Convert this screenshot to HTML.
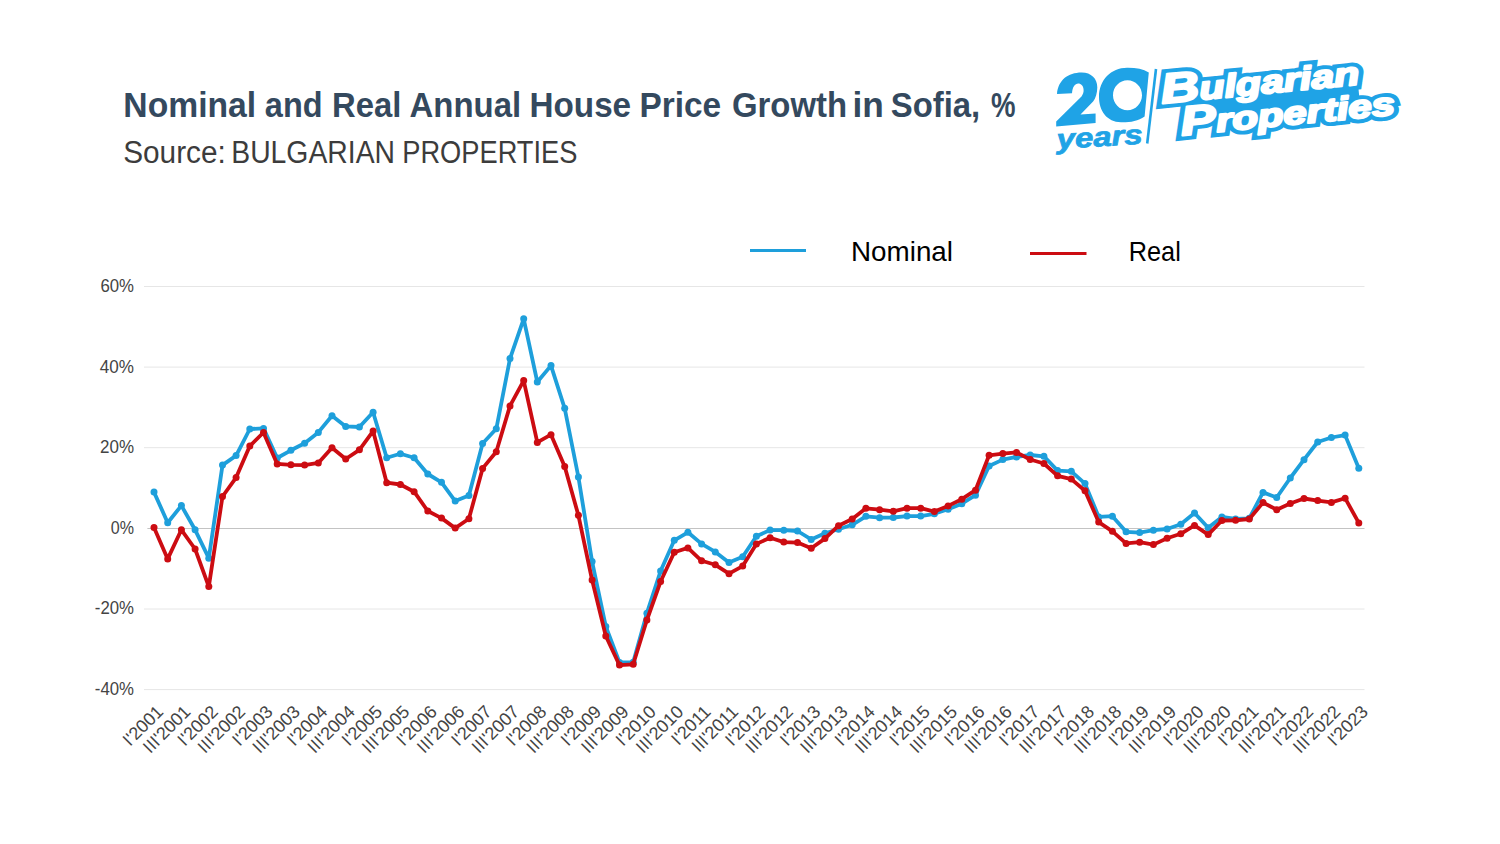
<!DOCTYPE html>
<html><head><meta charset="utf-8"><style>
html,body{margin:0;padding:0;background:#fff;}
svg{display:block;}
text{font-family:"Liberation Sans",sans-serif;}
</style></head><body>
<svg width="1500" height="844" viewBox="0 0 1500 844">
<rect width="1500" height="844" fill="#fff"/>
<g font-size="35.5" font-weight="bold" fill="#34495e"><text x="123.35" y="117" textLength="132.84" lengthAdjust="spacingAndGlyphs">Nominal</text><text x="264.85" y="117" textLength="57.69" lengthAdjust="spacingAndGlyphs">and</text><text x="332.00" y="117" textLength="69.32" lengthAdjust="spacingAndGlyphs">Real</text><text x="409.48" y="117" textLength="111.65" lengthAdjust="spacingAndGlyphs">Annual</text><text x="529.47" y="117" textLength="101.66" lengthAdjust="spacingAndGlyphs">House</text><text x="639.47" y="117" textLength="81.67" lengthAdjust="spacingAndGlyphs">Price</text><text x="731.95" y="117" textLength="115.09" lengthAdjust="spacingAndGlyphs">Growth</text><text x="852.54" y="117" textLength="31.35" lengthAdjust="spacingAndGlyphs">in</text><text x="890.75" y="117" textLength="89.44" lengthAdjust="spacingAndGlyphs">Sofia,</text><text x="991.01" y="117" textLength="24.51" lengthAdjust="spacingAndGlyphs">%</text></g>
<g font-size="31" fill="#3c3c3c"><text x="123.15" y="163" textLength="102.67" lengthAdjust="spacingAndGlyphs">Source:</text><text x="231.28" y="163" textLength="163.73" lengthAdjust="spacingAndGlyphs">BULGARIAN</text><text x="402.27" y="163" textLength="175.18" lengthAdjust="spacingAndGlyphs">PROPERTIES</text></g>
<!-- logo -->
<g fill="#1fa3e6">
<path d="M1057,94 C1058,80 1068,72.5 1081.5,72.4 C1091,72.3 1097.5,78.5 1097.3,87.4 C1097.2,93 1095.8,98 1093.1,101.5 L1080.5,114.5 L1095.6,113.4 L1095.6,123.1 L1056.2,126.4 L1056.2,121.4 L1081.5,96.5 C1083,94 1083.8,92 1083.6,89.9 C1083.5,86 1081,83.6 1078.2,83.6 C1075,83.6 1072.5,87 1072,93.2 Z"/>
<path fill-rule="evenodd" d="M1148.8,72.4 L1144.6,116.4 C1138,121 1130,122.5 1121,122.3 C1107,122 1099,111 1099,97 C1099,80 1111,68 1127,67.8 C1136,67.7 1143,69 1148.8,72.4 Z M1127.5,80.3 C1135.5,80.3 1142,87 1142,95.2 C1142,103.4 1135.5,110.2 1127.5,110.2 C1119.5,110.2 1113,103.4 1113,95.2 C1113,87 1119.5,80.3 1127.5,80.3 Z"/>
<text transform="translate(1057.3,148.8) rotate(-3.4)" font-size="27.5" font-weight="bold" font-style="italic" textLength="86" lengthAdjust="spacingAndGlyphs" stroke="#1fa3e6" stroke-width="0.8">years</text>
</g>
<line x1="1156" y1="69" x2="1147.2" y2="143.5" stroke="#1fa3e6" stroke-width="2.6"/>
<g transform="translate(1163,103.5) rotate(-5.6)" font-weight="bold" font-style="italic">
<path d="M22,-8 L196,-8 L196,18 L20,18 Z" fill="#1fa3e6"/>
<g fill="#fff" stroke="#1fa3e6" stroke-width="10" stroke-linejoin="miter" stroke-miterlimit="2.5" paint-order="stroke">
<text x="-1" y="0" textLength="199" lengthAdjust="spacingAndGlyphs"><tspan font-size="42">B</tspan><tspan font-size="32.5">ulgarian</tspan></text>
<text x="15.6" y="33.6" textLength="215" lengthAdjust="spacingAndGlyphs"><tspan font-size="41">P</tspan><tspan font-size="32.5">roperties</tspan></text>
</g>
<g fill="#fff" stroke="#fff" stroke-width="2.2" stroke-linejoin="round">
<text x="-1" y="0" textLength="199" lengthAdjust="spacingAndGlyphs"><tspan font-size="42">B</tspan><tspan font-size="32.5">ulgarian</tspan></text>
<text x="15.6" y="33.6" textLength="215" lengthAdjust="spacingAndGlyphs"><tspan font-size="41">P</tspan><tspan font-size="32.5">roperties</tspan></text>
</g>
</g>
<!-- legend -->
<line x1="750" y1="250.4" x2="806" y2="250.4" stroke="#1e9fdb" stroke-width="3"/>
<text x="851" y="261" font-size="28" fill="#000" textLength="102" lengthAdjust="spacingAndGlyphs">Nominal</text>
<line x1="1030" y1="253.5" x2="1086.5" y2="253.5" stroke="#cc0c12" stroke-width="3"/>
<text x="1128.8" y="261" font-size="28" fill="#000" textLength="52" lengthAdjust="spacingAndGlyphs">Real</text>
<!-- grid -->
<line x1="144.0" y1="286.5" x2="1364.5" y2="286.5" stroke="#e6e6e6" stroke-width="1"/><line x1="144.0" y1="367.1" x2="1364.5" y2="367.1" stroke="#e6e6e6" stroke-width="1"/><line x1="144.0" y1="447.7" x2="1364.5" y2="447.7" stroke="#e6e6e6" stroke-width="1"/><line x1="147.4" y1="528.5" x2="1364.5" y2="528.5" stroke="#c3c3c3" stroke-width="1"/><line x1="144.0" y1="609.0" x2="1364.5" y2="609.0" stroke="#e6e6e6" stroke-width="1"/><line x1="144.0" y1="689.6" x2="1364.5" y2="689.6" stroke="#e6e6e6" stroke-width="1"/>
<g font-size="18.3" fill="#444"><text x="100.4" y="291.9" textLength="33.6" lengthAdjust="spacingAndGlyphs">60%</text><text x="99.8" y="372.5" textLength="34.2" lengthAdjust="spacingAndGlyphs">40%</text><text x="100.0" y="453.1" textLength="34.0" lengthAdjust="spacingAndGlyphs">20%</text><text x="110.8" y="533.9" textLength="23.2" lengthAdjust="spacingAndGlyphs">0%</text><text x="94.8" y="614.4" textLength="39.2" lengthAdjust="spacingAndGlyphs">-20%</text><text x="94.8" y="695.0" textLength="39.2" lengthAdjust="spacingAndGlyphs">-40%</text></g>
<g font-size="18" fill="#444"><text transform="translate(164.3,712.8) rotate(-45)" text-anchor="end">I'2001</text><text transform="translate(191.7,712.8) rotate(-45)" text-anchor="end">III'2001</text><text transform="translate(219.1,712.8) rotate(-45)" text-anchor="end">I'2002</text><text transform="translate(246.4,712.8) rotate(-45)" text-anchor="end">III'2002</text><text transform="translate(273.8,712.8) rotate(-45)" text-anchor="end">I'2003</text><text transform="translate(301.2,712.8) rotate(-45)" text-anchor="end">III'2003</text><text transform="translate(328.6,712.8) rotate(-45)" text-anchor="end">I'2004</text><text transform="translate(356.0,712.8) rotate(-45)" text-anchor="end">III'2004</text><text transform="translate(383.4,712.8) rotate(-45)" text-anchor="end">I'2005</text><text transform="translate(410.7,712.8) rotate(-45)" text-anchor="end">III'2005</text><text transform="translate(438.1,712.8) rotate(-45)" text-anchor="end">I'2006</text><text transform="translate(465.5,712.8) rotate(-45)" text-anchor="end">III'2006</text><text transform="translate(492.9,712.8) rotate(-45)" text-anchor="end">I'2007</text><text transform="translate(520.3,712.8) rotate(-45)" text-anchor="end">III'2007</text><text transform="translate(547.6,712.8) rotate(-45)" text-anchor="end">I'2008</text><text transform="translate(575.0,712.8) rotate(-45)" text-anchor="end">III'2008</text><text transform="translate(602.4,712.8) rotate(-45)" text-anchor="end">I'2009</text><text transform="translate(629.8,712.8) rotate(-45)" text-anchor="end">III'2009</text><text transform="translate(657.2,712.8) rotate(-45)" text-anchor="end">I'2010</text><text transform="translate(684.6,712.8) rotate(-45)" text-anchor="end">III'2010</text><text transform="translate(711.9,712.8) rotate(-45)" text-anchor="end">I'2011</text><text transform="translate(739.3,712.8) rotate(-45)" text-anchor="end">III'2011</text><text transform="translate(766.7,712.8) rotate(-45)" text-anchor="end">I'2012</text><text transform="translate(794.1,712.8) rotate(-45)" text-anchor="end">III'2012</text><text transform="translate(821.5,712.8) rotate(-45)" text-anchor="end">I'2013</text><text transform="translate(848.8,712.8) rotate(-45)" text-anchor="end">III'2013</text><text transform="translate(876.2,712.8) rotate(-45)" text-anchor="end">I'2014</text><text transform="translate(903.6,712.8) rotate(-45)" text-anchor="end">III'2014</text><text transform="translate(931.0,712.8) rotate(-45)" text-anchor="end">I'2015</text><text transform="translate(958.4,712.8) rotate(-45)" text-anchor="end">III'2015</text><text transform="translate(985.8,712.8) rotate(-45)" text-anchor="end">I'2016</text><text transform="translate(1013.1,712.8) rotate(-45)" text-anchor="end">III'2016</text><text transform="translate(1040.5,712.8) rotate(-45)" text-anchor="end">I'2017</text><text transform="translate(1067.9,712.8) rotate(-45)" text-anchor="end">III'2017</text><text transform="translate(1095.3,712.8) rotate(-45)" text-anchor="end">I'2018</text><text transform="translate(1122.7,712.8) rotate(-45)" text-anchor="end">III'2018</text><text transform="translate(1150.0,712.8) rotate(-45)" text-anchor="end">I'2019</text><text transform="translate(1177.4,712.8) rotate(-45)" text-anchor="end">III'2019</text><text transform="translate(1204.8,712.8) rotate(-45)" text-anchor="end">I'2020</text><text transform="translate(1232.2,712.8) rotate(-45)" text-anchor="end">III'2020</text><text transform="translate(1259.6,712.8) rotate(-45)" text-anchor="end">I'2021</text><text transform="translate(1287.0,712.8) rotate(-45)" text-anchor="end">III'2021</text><text transform="translate(1314.3,712.8) rotate(-45)" text-anchor="end">I'2022</text><text transform="translate(1341.7,712.8) rotate(-45)" text-anchor="end">III'2022</text><text transform="translate(1369.1,712.8) rotate(-45)" text-anchor="end">I'2023</text></g>
<polyline points="154.0,492.1 167.7,522.7 181.4,505.6 195.1,529.8 208.8,558.2 222.5,465.1 236.1,455.6 249.8,429.0 263.5,428.4 277.2,458.0 290.9,450.3 304.6,443.2 318.3,432.4 332.0,415.7 345.7,426.4 359.4,427.0 373.1,412.2 386.7,457.8 400.4,453.7 414.1,457.8 427.8,474.0 441.5,482.3 455.2,501.1 468.9,495.4 482.6,443.5 496.3,428.8 510.0,358.6 523.7,318.8 537.3,382.0 551.0,365.6 564.7,408.3 578.4,477.0 592.1,561.6 605.8,626.5 619.5,662.5 633.2,662.2 646.9,613.2 660.6,571.0 674.3,540.3 687.9,532.3 701.6,543.9 715.3,551.9 729.0,562.6 742.7,556.8 756.4,536.3 770.1,530.1 783.8,530.2 797.5,531.0 811.2,539.4 824.9,533.2 838.5,529.2 852.2,524.8 865.9,516.3 879.6,517.7 893.3,517.5 907.0,516.1 920.7,516.1 934.4,513.8 948.1,509.3 961.8,503.7 975.5,495.2 989.1,466.0 1002.8,459.6 1016.5,456.9 1030.2,455.0 1043.9,456.3 1057.6,470.6 1071.3,471.3 1085.0,483.6 1098.7,516.9 1112.4,516.2 1126.1,531.8 1139.7,532.6 1153.4,530.2 1167.1,529.0 1180.8,524.2 1194.5,513.0 1208.2,527.8 1221.9,517.0 1235.6,519.0 1249.3,518.3 1263.0,492.4 1276.7,497.5 1290.3,478.0 1304.0,459.7 1317.7,442.0 1331.4,437.5 1345.1,435.1 1358.8,468.3" fill="none" stroke="#1e9fdb" stroke-width="3.8" stroke-linejoin="round"/>
<g fill="#1e9fdb"><circle cx="154.0" cy="492.1" r="3.5"/><circle cx="167.7" cy="522.7" r="3.5"/><circle cx="181.4" cy="505.6" r="3.5"/><circle cx="195.1" cy="529.8" r="3.5"/><circle cx="208.8" cy="558.2" r="3.5"/><circle cx="222.5" cy="465.1" r="3.5"/><circle cx="236.1" cy="455.6" r="3.5"/><circle cx="249.8" cy="429.0" r="3.5"/><circle cx="263.5" cy="428.4" r="3.5"/><circle cx="277.2" cy="458.0" r="3.5"/><circle cx="290.9" cy="450.3" r="3.5"/><circle cx="304.6" cy="443.2" r="3.5"/><circle cx="318.3" cy="432.4" r="3.5"/><circle cx="332.0" cy="415.7" r="3.5"/><circle cx="345.7" cy="426.4" r="3.5"/><circle cx="359.4" cy="427.0" r="3.5"/><circle cx="373.1" cy="412.2" r="3.5"/><circle cx="386.7" cy="457.8" r="3.5"/><circle cx="400.4" cy="453.7" r="3.5"/><circle cx="414.1" cy="457.8" r="3.5"/><circle cx="427.8" cy="474.0" r="3.5"/><circle cx="441.5" cy="482.3" r="3.5"/><circle cx="455.2" cy="501.1" r="3.5"/><circle cx="468.9" cy="495.4" r="3.5"/><circle cx="482.6" cy="443.5" r="3.5"/><circle cx="496.3" cy="428.8" r="3.5"/><circle cx="510.0" cy="358.6" r="3.5"/><circle cx="523.7" cy="318.8" r="3.5"/><circle cx="537.3" cy="382.0" r="3.5"/><circle cx="551.0" cy="365.6" r="3.5"/><circle cx="564.7" cy="408.3" r="3.5"/><circle cx="578.4" cy="477.0" r="3.5"/><circle cx="592.1" cy="561.6" r="3.5"/><circle cx="605.8" cy="626.5" r="3.5"/><circle cx="619.5" cy="662.5" r="3.5"/><circle cx="633.2" cy="662.2" r="3.5"/><circle cx="646.9" cy="613.2" r="3.5"/><circle cx="660.6" cy="571.0" r="3.5"/><circle cx="674.3" cy="540.3" r="3.5"/><circle cx="687.9" cy="532.3" r="3.5"/><circle cx="701.6" cy="543.9" r="3.5"/><circle cx="715.3" cy="551.9" r="3.5"/><circle cx="729.0" cy="562.6" r="3.5"/><circle cx="742.7" cy="556.8" r="3.5"/><circle cx="756.4" cy="536.3" r="3.5"/><circle cx="770.1" cy="530.1" r="3.5"/><circle cx="783.8" cy="530.2" r="3.5"/><circle cx="797.5" cy="531.0" r="3.5"/><circle cx="811.2" cy="539.4" r="3.5"/><circle cx="824.9" cy="533.2" r="3.5"/><circle cx="838.5" cy="529.2" r="3.5"/><circle cx="852.2" cy="524.8" r="3.5"/><circle cx="865.9" cy="516.3" r="3.5"/><circle cx="879.6" cy="517.7" r="3.5"/><circle cx="893.3" cy="517.5" r="3.5"/><circle cx="907.0" cy="516.1" r="3.5"/><circle cx="920.7" cy="516.1" r="3.5"/><circle cx="934.4" cy="513.8" r="3.5"/><circle cx="948.1" cy="509.3" r="3.5"/><circle cx="961.8" cy="503.7" r="3.5"/><circle cx="975.5" cy="495.2" r="3.5"/><circle cx="989.1" cy="466.0" r="3.5"/><circle cx="1002.8" cy="459.6" r="3.5"/><circle cx="1016.5" cy="456.9" r="3.5"/><circle cx="1030.2" cy="455.0" r="3.5"/><circle cx="1043.9" cy="456.3" r="3.5"/><circle cx="1057.6" cy="470.6" r="3.5"/><circle cx="1071.3" cy="471.3" r="3.5"/><circle cx="1085.0" cy="483.6" r="3.5"/><circle cx="1098.7" cy="516.9" r="3.5"/><circle cx="1112.4" cy="516.2" r="3.5"/><circle cx="1126.1" cy="531.8" r="3.5"/><circle cx="1139.7" cy="532.6" r="3.5"/><circle cx="1153.4" cy="530.2" r="3.5"/><circle cx="1167.1" cy="529.0" r="3.5"/><circle cx="1180.8" cy="524.2" r="3.5"/><circle cx="1194.5" cy="513.0" r="3.5"/><circle cx="1208.2" cy="527.8" r="3.5"/><circle cx="1221.9" cy="517.0" r="3.5"/><circle cx="1235.6" cy="519.0" r="3.5"/><circle cx="1249.3" cy="518.3" r="3.5"/><circle cx="1263.0" cy="492.4" r="3.5"/><circle cx="1276.7" cy="497.5" r="3.5"/><circle cx="1290.3" cy="478.0" r="3.5"/><circle cx="1304.0" cy="459.7" r="3.5"/><circle cx="1317.7" cy="442.0" r="3.5"/><circle cx="1331.4" cy="437.5" r="3.5"/><circle cx="1345.1" cy="435.1" r="3.5"/><circle cx="1358.8" cy="468.3" r="3.5"/></g>
<polyline points="154.0,527.6 167.7,558.9 181.4,529.8 195.1,549.0 208.8,586.6 222.5,496.5 236.1,477.6 249.8,446.1 263.5,432.5 277.2,463.9 290.9,464.8 304.6,465.1 318.3,462.9 332.0,447.7 345.7,459.0 359.4,449.8 373.1,431.1 386.7,482.7 400.4,484.5 414.1,491.7 427.8,511.0 441.5,518.1 455.2,528.1 468.9,518.8 482.6,468.4 496.3,451.8 510.0,405.9 523.7,380.6 537.3,442.4 551.0,434.7 564.7,466.5 578.4,515.3 592.1,580.0 605.8,636.0 619.5,665.1 633.2,664.3 646.9,620.0 660.6,581.5 674.3,552.2 687.9,547.9 701.6,560.8 715.3,564.8 729.0,573.7 742.7,566.1 756.4,543.9 770.1,537.7 783.8,542.1 797.5,542.6 811.2,548.3 824.9,538.6 838.5,525.7 852.2,519.0 865.9,508.3 879.6,509.7 893.3,511.3 907.0,508.2 920.7,508.2 934.4,511.6 948.1,505.9 961.8,499.2 975.5,490.2 989.1,455.3 1002.8,453.6 1016.5,452.4 1030.2,459.5 1043.9,463.5 1057.6,475.8 1071.3,479.1 1085.0,490.8 1098.7,522.1 1112.4,531.3 1126.1,543.4 1139.7,542.2 1153.4,544.6 1167.1,538.2 1180.8,533.8 1194.5,525.4 1208.2,534.6 1221.9,520.5 1235.6,520.3 1249.3,519.0 1263.0,502.6 1276.7,509.7 1290.3,503.5 1304.0,498.5 1317.7,500.6 1331.4,502.4 1345.1,498.2 1358.8,522.9" fill="none" stroke="#cc0c12" stroke-width="3.8" stroke-linejoin="round"/>
<g fill="#cc0c12"><circle cx="154.0" cy="527.6" r="3.5"/><circle cx="167.7" cy="558.9" r="3.5"/><circle cx="181.4" cy="529.8" r="3.5"/><circle cx="195.1" cy="549.0" r="3.5"/><circle cx="208.8" cy="586.6" r="3.5"/><circle cx="222.5" cy="496.5" r="3.5"/><circle cx="236.1" cy="477.6" r="3.5"/><circle cx="249.8" cy="446.1" r="3.5"/><circle cx="263.5" cy="432.5" r="3.5"/><circle cx="277.2" cy="463.9" r="3.5"/><circle cx="290.9" cy="464.8" r="3.5"/><circle cx="304.6" cy="465.1" r="3.5"/><circle cx="318.3" cy="462.9" r="3.5"/><circle cx="332.0" cy="447.7" r="3.5"/><circle cx="345.7" cy="459.0" r="3.5"/><circle cx="359.4" cy="449.8" r="3.5"/><circle cx="373.1" cy="431.1" r="3.5"/><circle cx="386.7" cy="482.7" r="3.5"/><circle cx="400.4" cy="484.5" r="3.5"/><circle cx="414.1" cy="491.7" r="3.5"/><circle cx="427.8" cy="511.0" r="3.5"/><circle cx="441.5" cy="518.1" r="3.5"/><circle cx="455.2" cy="528.1" r="3.5"/><circle cx="468.9" cy="518.8" r="3.5"/><circle cx="482.6" cy="468.4" r="3.5"/><circle cx="496.3" cy="451.8" r="3.5"/><circle cx="510.0" cy="405.9" r="3.5"/><circle cx="523.7" cy="380.6" r="3.5"/><circle cx="537.3" cy="442.4" r="3.5"/><circle cx="551.0" cy="434.7" r="3.5"/><circle cx="564.7" cy="466.5" r="3.5"/><circle cx="578.4" cy="515.3" r="3.5"/><circle cx="592.1" cy="580.0" r="3.5"/><circle cx="605.8" cy="636.0" r="3.5"/><circle cx="619.5" cy="665.1" r="3.5"/><circle cx="633.2" cy="664.3" r="3.5"/><circle cx="646.9" cy="620.0" r="3.5"/><circle cx="660.6" cy="581.5" r="3.5"/><circle cx="674.3" cy="552.2" r="3.5"/><circle cx="687.9" cy="547.9" r="3.5"/><circle cx="701.6" cy="560.8" r="3.5"/><circle cx="715.3" cy="564.8" r="3.5"/><circle cx="729.0" cy="573.7" r="3.5"/><circle cx="742.7" cy="566.1" r="3.5"/><circle cx="756.4" cy="543.9" r="3.5"/><circle cx="770.1" cy="537.7" r="3.5"/><circle cx="783.8" cy="542.1" r="3.5"/><circle cx="797.5" cy="542.6" r="3.5"/><circle cx="811.2" cy="548.3" r="3.5"/><circle cx="824.9" cy="538.6" r="3.5"/><circle cx="838.5" cy="525.7" r="3.5"/><circle cx="852.2" cy="519.0" r="3.5"/><circle cx="865.9" cy="508.3" r="3.5"/><circle cx="879.6" cy="509.7" r="3.5"/><circle cx="893.3" cy="511.3" r="3.5"/><circle cx="907.0" cy="508.2" r="3.5"/><circle cx="920.7" cy="508.2" r="3.5"/><circle cx="934.4" cy="511.6" r="3.5"/><circle cx="948.1" cy="505.9" r="3.5"/><circle cx="961.8" cy="499.2" r="3.5"/><circle cx="975.5" cy="490.2" r="3.5"/><circle cx="989.1" cy="455.3" r="3.5"/><circle cx="1002.8" cy="453.6" r="3.5"/><circle cx="1016.5" cy="452.4" r="3.5"/><circle cx="1030.2" cy="459.5" r="3.5"/><circle cx="1043.9" cy="463.5" r="3.5"/><circle cx="1057.6" cy="475.8" r="3.5"/><circle cx="1071.3" cy="479.1" r="3.5"/><circle cx="1085.0" cy="490.8" r="3.5"/><circle cx="1098.7" cy="522.1" r="3.5"/><circle cx="1112.4" cy="531.3" r="3.5"/><circle cx="1126.1" cy="543.4" r="3.5"/><circle cx="1139.7" cy="542.2" r="3.5"/><circle cx="1153.4" cy="544.6" r="3.5"/><circle cx="1167.1" cy="538.2" r="3.5"/><circle cx="1180.8" cy="533.8" r="3.5"/><circle cx="1194.5" cy="525.4" r="3.5"/><circle cx="1208.2" cy="534.6" r="3.5"/><circle cx="1221.9" cy="520.5" r="3.5"/><circle cx="1235.6" cy="520.3" r="3.5"/><circle cx="1249.3" cy="519.0" r="3.5"/><circle cx="1263.0" cy="502.6" r="3.5"/><circle cx="1276.7" cy="509.7" r="3.5"/><circle cx="1290.3" cy="503.5" r="3.5"/><circle cx="1304.0" cy="498.5" r="3.5"/><circle cx="1317.7" cy="500.6" r="3.5"/><circle cx="1331.4" cy="502.4" r="3.5"/><circle cx="1345.1" cy="498.2" r="3.5"/><circle cx="1358.8" cy="522.9" r="3.5"/></g>
</svg>
</body></html>
